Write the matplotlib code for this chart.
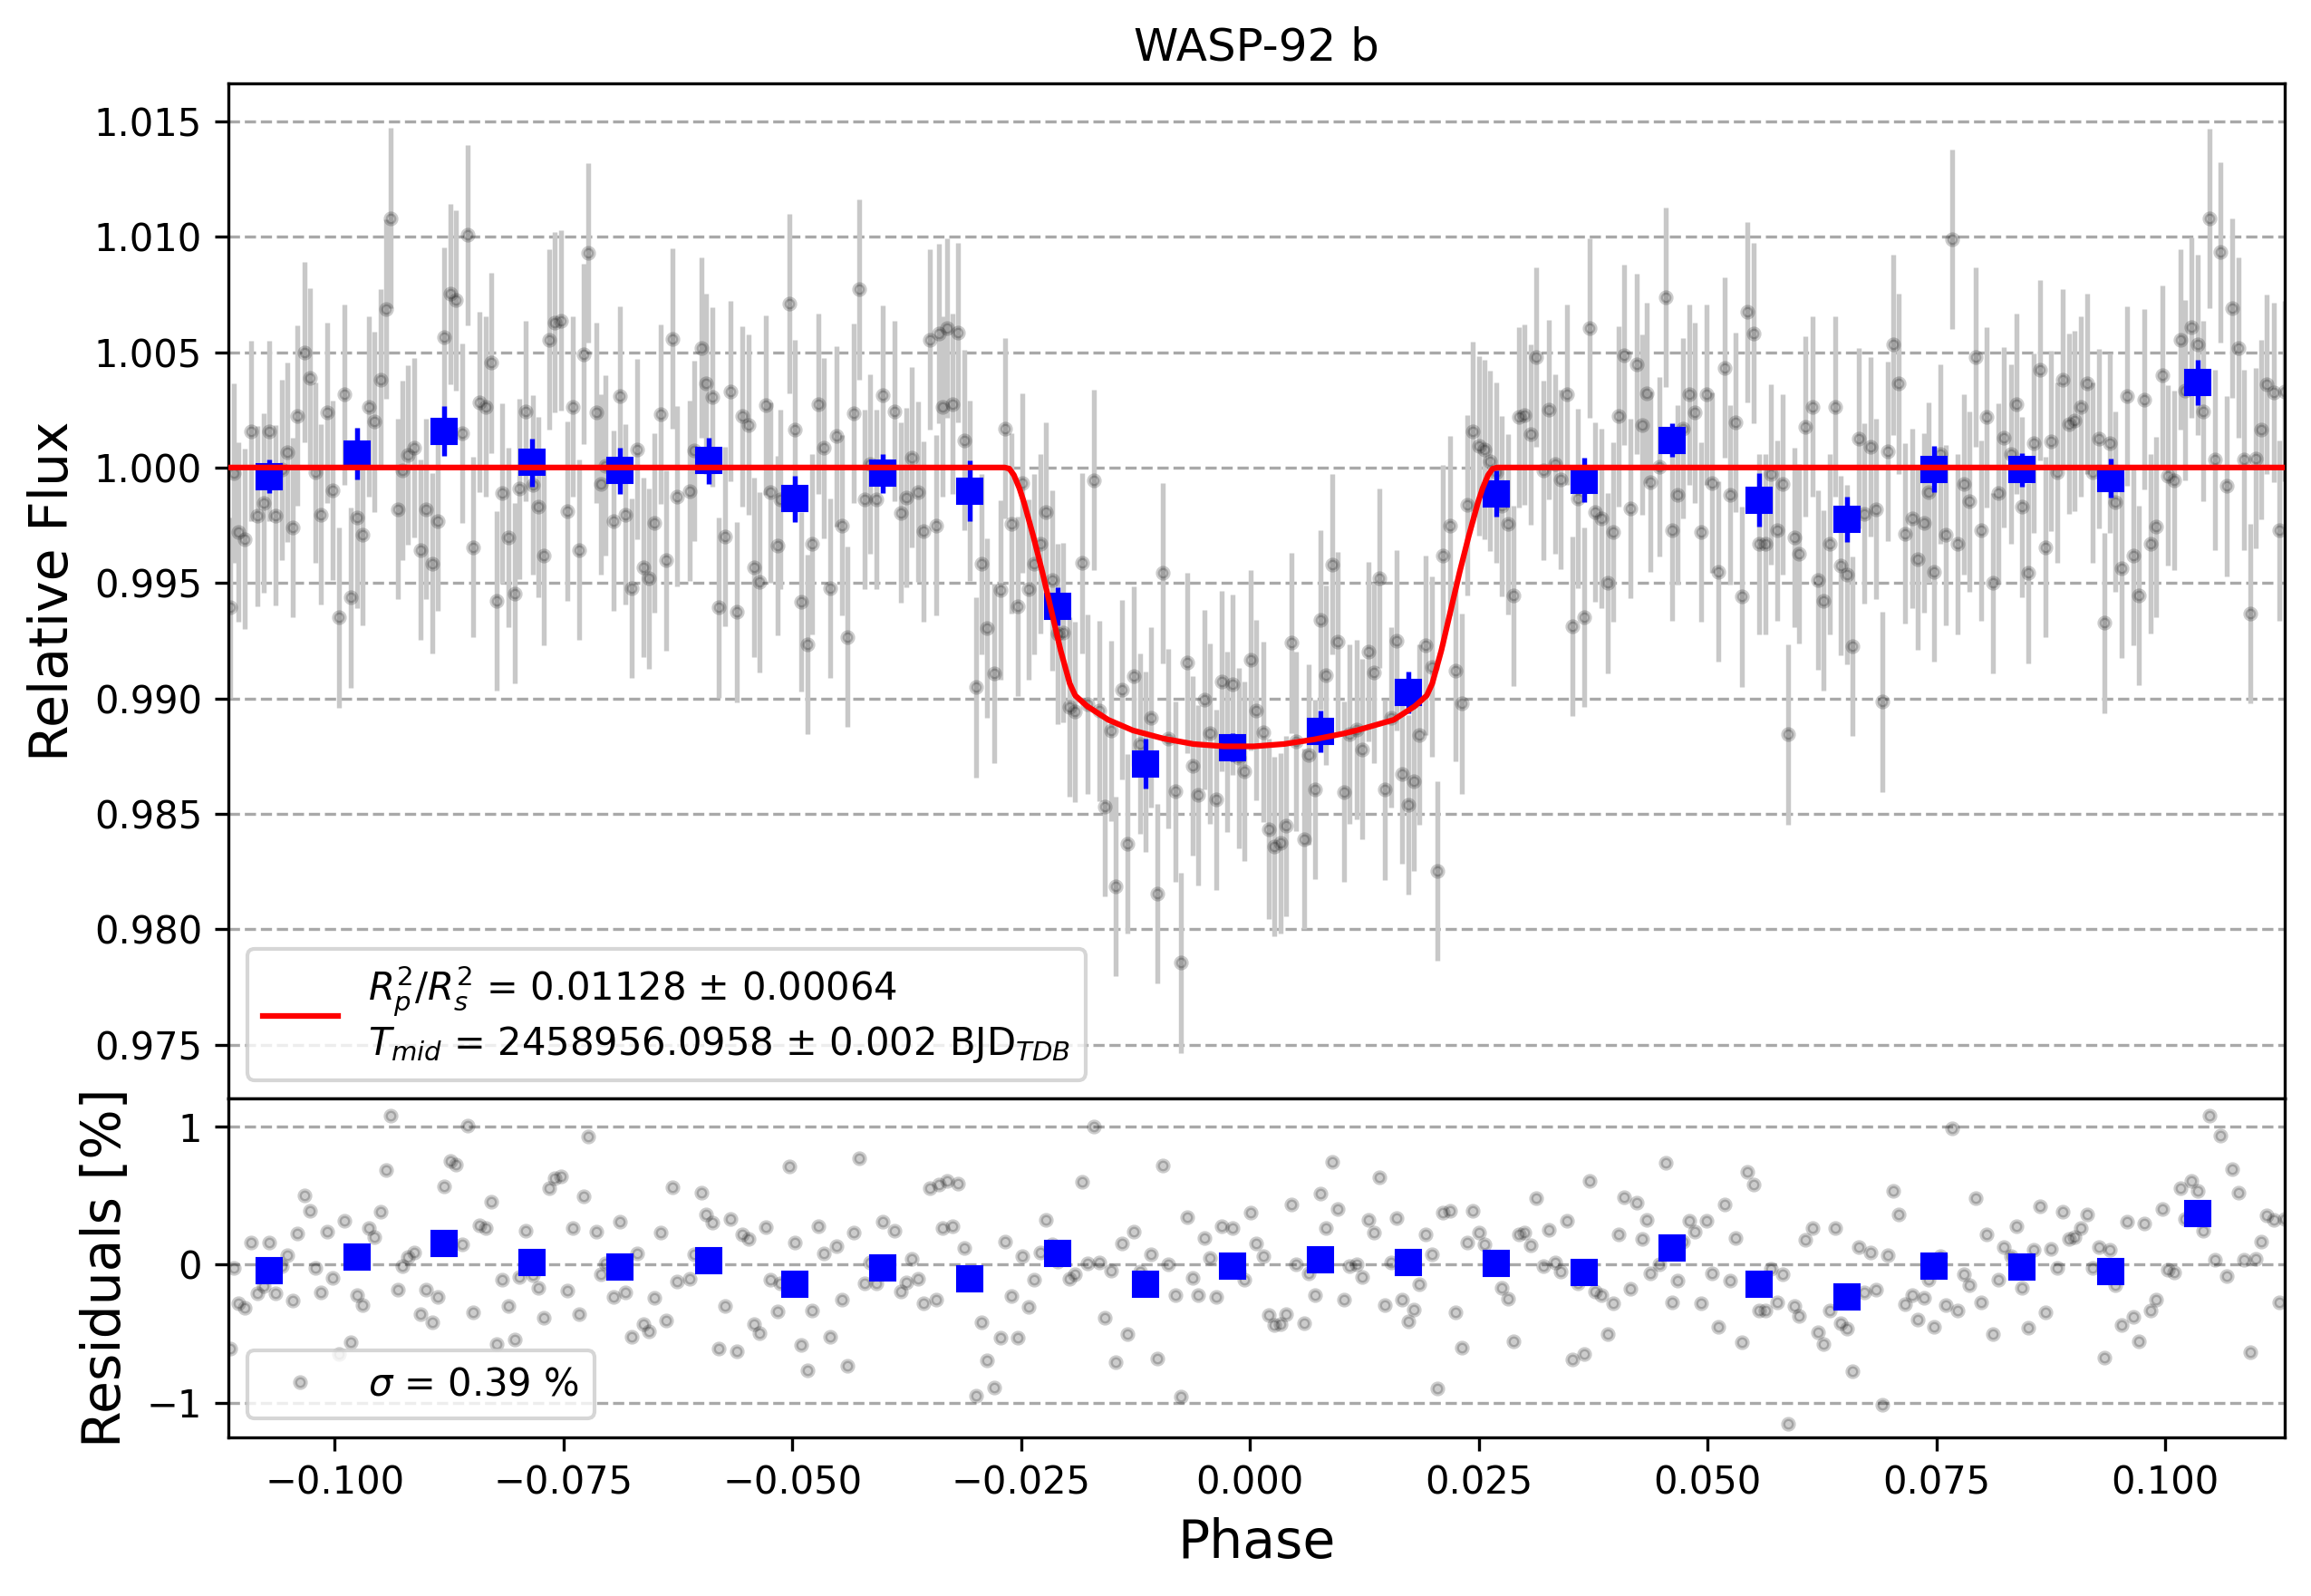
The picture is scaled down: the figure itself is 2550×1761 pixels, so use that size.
import numpy as np
import matplotlib
matplotlib.use("Agg")
from matplotlib import pyplot as plt

# =============================================================================
# data
# =============================================================================
# fitted transit model (phase, relative flux)
model_phase = [-0.1117, -0.0268, -0.0263, -0.0258, -0.0252, -0.0247, -0.0237,
               -0.0227, -0.0217, -0.0207, -0.0197, -0.0191, -0.0178, -0.0155,
               -0.0128, -0.0095, -0.0062, -0.0029, 0.0004, 0.0037, 0.0070,
               0.0103, 0.0120, 0.0157, 0.0180, 0.0193, 0.0199, 0.0209, 0.0219,
               0.0229, 0.0239, 0.0249, 0.0254, 0.0260, 0.0265, 0.0270, 0.1131]
model_flux = [1.0, 1.0, 0.99995, 0.99967, 0.9991, 0.99849, 0.99705,
              0.99548, 0.99378, 0.99208, 0.99064, 0.99012, 0.98966, 0.98907,
              0.98861, 0.98826, 0.98802, 0.98792, 0.98792, 0.98802, 0.98822,
              0.98848, 0.98865, 0.98907, 0.98966, 0.99012, 0.99064, 0.99208, 0.99378,
              0.99548, 0.99705, 0.99849, 0.9991, 0.99967, 0.99995, 1.0, 1.0]

# unbinned points: phase and residual [%]
res_phase = [
    -0.1114, -0.1110, -0.1105, -0.1098, -0.1091, -0.1085, -0.1078, -0.1072, -0.1065, -0.1058,
    -0.1052, -0.1046, -0.1041, -0.1033, -0.1027, -0.1021, -0.1015, -0.1008, -0.1002, -0.0995,
    -0.0989, -0.0983, -0.0976, -0.0970, -0.0963, -0.0957, -0.0950, -0.0944, -0.0939, -0.0931,
    -0.0926, -0.0920, -0.0913, -0.0906, -0.0900, -0.0893, -0.0887, -0.0881, -0.0874, -0.0868,
    -0.0861, -0.0855, -0.0849, -0.0842, -0.0835, -0.0829, -0.0823, -0.0817, -0.0810, -0.0803,
    -0.0798, -0.0791, -0.0784, -0.0778, -0.0772, -0.0766, -0.0760, -0.0753, -0.0746, -0.0740,
    -0.0733, -0.0728, -0.0723,
    -0.0714, -0.0709, -0.0704, -0.0695, -0.0688, -0.0683, -0.0676, -0.0670, -0.0663, -0.0657,
    -0.0651, -0.0644, -0.0638, -0.0631, -0.0626, -0.0612, -0.0607, -0.0599, -0.0594, -0.0587,
    -0.0581, -0.0574, -0.0568, -0.0561, -0.0555, -0.0548, -0.0542, -0.0536, -0.0529, -0.0524,
    -0.0516, -0.0513, -0.0503, -0.0497, -0.0490, -0.0484, -0.0479, -0.0472, -0.0466, -0.0459,
    -0.0452, -0.0446, -0.0440, -0.0433, -0.0427, -0.0421, -0.0415, -0.0408, -0.0401, -0.0388,
    -0.0382, -0.0376, -0.0370, -0.0363, -0.0357, -0.0350, -0.0343, -0.0340, -0.0336,
    -0.0331, -0.0325, -0.0319, -0.0312, -0.0306, -0.0299, -0.0293, -0.0287, -0.0280, -0.0273,
    -0.0268, -0.0261, -0.0254, -0.0249, -0.0242, -0.0236, -0.0229, -0.0223, -0.0216, -0.0210,
    -0.0204, -0.0197, -0.0191, -0.0184, -0.0178, -0.0171, -0.0165, -0.0159, -0.0152, -0.0147,
    -0.0140, -0.0134, -0.0127, -0.0120, -0.0114, -0.0108, -0.0101, -0.0095, -0.0089, -0.0082,
    -0.0076, -0.0069, -0.0063, -0.0057, -0.0050, -0.0044, -0.0037, -0.0031, -0.0025, -0.0019,
    -0.0012, -0.0006, 0.0001, 0.0007, 0.0014, 0.0020, 0.0026, 0.0033, 0.0039, 0.0045, 0.0050,
    0.0059, 0.0064, 0.0071, 0.0077, 0.0083, 0.0090, 0.0096, 0.0103, 0.0109, 0.0116,
    0.0122, 0.0129, 0.0135, 0.0141, 0.0147, 0.0154, 0.0160, 0.0166, 0.0173, 0.0179,
    0.0185, 0.0192, 0.0199, 0.0205, 0.0211, 0.0218, 0.0224, 0.0231, 0.0237, 0.0243,
    0.0250, 0.0256, 0.0262, 0.0269, 0.0275, 0.0282, 0.0288, 0.0294, 0.0300, 0.0307,
    0.0313, 0.0320, 0.0326, 0.0333, 0.0339, 0.0346, 0.0352, 0.0358, 0.0365, 0.0371,
    0.0377, 0.0384, 0.0391, 0.0397, 0.0403, 0.0409, 0.0415, 0.0422, 0.0428, 0.0433, 0.0437,
    0.0447, 0.0454, 0.0461, 0.0467, 0.0473, 0.0480, 0.0486, 0.0493, 0.0499, 0.0505,
    0.0512, 0.0518, 0.0524, 0.0530, 0.0537, 0.0543, 0.0550, 0.0556, 0.0563, 0.0569,
    0.0576, 0.0582, 0.0588, 0.0595, 0.0600, 0.0607, 0.0614, 0.0620, 0.0626, 0.0633,
    0.0639, 0.0645, 0.0652, 0.0658, 0.0665, 0.0671, 0.0678, 0.0684, 0.0691, 0.0697,
    0.0703, 0.0709, 0.0715, 0.0723, 0.0729, 0.0736, 0.0741, 0.0747, 0.0754, 0.0760,
    0.0767, 0.0773, 0.0780, 0.0786, 0.0793, 0.0799, 0.0805, 0.0812, 0.0817, 0.0823,
    0.0831, 0.0837, 0.0843, 0.0850, 0.0856, 0.0863, 0.0869, 0.0875, 0.0882, 0.0888,
    0.0895, 0.0901, 0.0908, 0.0914, 0.0920, 0.0927, 0.0933, 0.0939, 0.0945, 0.0952,
    0.0958, 0.0965, 0.0971, 0.0977, 0.0984, 0.0990, 0.0997, 0.1003, 0.1010, 0.1016,
    0.1021, 0.1028, 0.1035, 0.1041, 0.1048, 0.1054, 0.1060, 0.1067, 0.1073, 0.1080,
    0.1086, 0.1093, 0.1099, 0.1105, 0.1111, 0.1118, 0.1124, 0.1130]
res_pct = [
    -0.607, -0.024, -0.28, -0.31, 0.158, -0.21, -0.154, 0.158, -0.207, -0.01,
    0.066, -0.26, 0.224, 0.499, 0.387, -0.022, -0.204, 0.237, -0.099, -0.65,
    0.316, -0.563, -0.218, -0.292, 0.264, 0.198, 0.382, 0.686, 1.081, -0.18,
    -0.013, 0.055, 0.086, -0.356, -0.18, -0.415, -0.231, 0.565, 0.752, 0.725,
    0.149, 1.007, -0.345, 0.284, 0.264, 0.453, -0.578, -0.112, -0.303, -0.545,
    -0.092, 0.244, -0.075, -0.171, -0.382, 0.554, 0.629, 0.637, -0.189, 0.264,
    -0.356, 0.492, 0.93,
    0.237, -0.073, 0.009, -0.231, 0.31, -0.204, -0.523, 0.079, -0.433, -0.481,
    -0.24, 0.231, -0.402, 0.558, -0.125, -0.101, 0.073, 0.519, 0.363, 0.305,
    -0.607, -0.299, 0.33, -0.626, 0.222, 0.185, -0.433, -0.497, 0.27, -0.108,
    -0.338, -0.138, 0.71, 0.163, -0.582, -0.767, -0.332, 0.275, 0.084, -0.523,
    0.136, -0.251, -0.734, 0.235, 0.771, -0.138, 0.015, -0.138, 0.314, 0.244,
    -0.196, -0.13, 0.044, -0.105, -0.277, 0.554, -0.251, 0.58, 0.264,
    0.604, 0.275, 0.585, 0.119, -0.10, -0.952, -0.418, -0.695, -0.892, -0.53,
    0.169, -0.226, -0.53, 0.059, -0.305, -0.108, 0.09, 0.327, 0.15, 0.02,
    0.12, -0.101, -0.07, 0.598, 0.009, 0.998, 0.013, -0.385, -0.042, -0.708,
    0.156, -0.501, 0.237, -0.05, -0.12, 0.077, -0.679, 0.716, 0.004, -0.22,
    -0.958, 0.347, -0.095, -0.22, 0.196, 0.051, -0.233, 0.281, 0.02, 0.268,
    -0.05, -0.108, 0.374, 0.156, 0.059, -0.363, -0.44, -0.429, -0.356, 0.433, 0.004,
    -0.424, -0.062, -0.218, 0.512, 0.268, 0.743, 0.402, -0.253, -0.009, 0.004,
    -0.088, 0.327, 0.229, 0.631, -0.292, 0.013, 0.336, -0.257, -0.409, -0.323,
    -0.141, 0.222, 0.073, -0.899, 0.378, 0.387, -0.345, -0.602, 0.163, 0.393,
    0.233, 0.149, 0.05, -0.02, -0.167, -0.246, -0.556, 0.218, 0.229, 0.143,
    0.479, -0.013, 0.251, 0.015, -0.051, 0.316, -0.688, -0.134, -0.648, 0.604,
    -0.193, -0.22, -0.501, -0.279, 0.222, 0.488, -0.178, 0.448, 0.185, 0.323, -0.062,
    0.004, 0.738, -0.273, -0.119, 0.169, 0.316, 0.237, -0.279, 0.316, -0.066,
    -0.451, 0.433, -0.119, 0.196, -0.56, 0.673, 0.582, -0.332, -0.332, -0.029,
    -0.273, -0.073, -1.156, -0.303, -0.374, 0.178, 0.264, -0.488, -0.576, -0.332,
    0.264, -0.424, -0.464, -0.774, 0.127, -0.2, 0.09, -0.18, -1.015, 0.07,
    0.532, 0.363, -0.286, -0.22, -0.398, -0.24, -0.108, -0.451, 0.059, -0.292,
    0.989, -0.332, -0.073, -0.147, 0.479, -0.273, 0.218, -0.501, -0.112, 0.13,
    0.059, 0.275, -0.171, -0.457, 0.105, 0.422, -0.345, 0.114, -0.022, 0.382,
    0.189, 0.202, 0.264, 0.363, -0.022, 0.125, -0.673, 0.105, -0.149, -0.435,
    0.31, -0.38, -0.554, 0.295, -0.33, -0.257, 0.4, -0.035, -0.055, 0.554,
    0.334, 0.607, 0.532, 0.244, 1.079, 0.033, 0.932, -0.081, 0.69, 0.519,
    0.033, -0.633, 0.04, 0.165, 0.36, 0.325, -0.273, 0.33]
flux_err = 0.0039

# binned points
bin_phase = [-0.1072, -0.0976, -0.0881, -0.0785, -0.0688, -0.0591, -0.0497, -0.0401,
             -0.0306, -0.0210, -0.0114, -0.0019, 0.0077, 0.0173, 0.0269, 0.0365,
             0.0461, 0.0556, 0.0652, 0.0747, 0.0843, 0.0940, 0.1035]
bin_flux = [0.99962, 1.00060, 1.00158, 1.00021, 0.99986, 1.00029, 0.99864, 0.99974,
            0.99899, 0.99399, 0.98716, 0.98787, 0.98857, 0.99026, 0.99887, 0.99946,
            1.00119, 0.99860, 0.99774, 0.99993, 0.99990, 0.99954, 1.00367]
bin_err = [0.00073, 0.00113, 0.00109, 0.00103, 0.00099, 0.00101, 0.00101, 0.00084,
           0.00130, 0.00084, 0.00108, 0.00060, 0.00092, 0.00090, 0.00100, 0.00096,
           0.00072, 0.00117, 0.00098, 0.00101, 0.00072, 0.00086, 0.00098]
bin_res = [-0.042, 0.057, 0.156, 0.018, -0.015, 0.026, -0.141, -0.026,
           -0.101, 0.084, -0.141, -0.009, 0.037, 0.018, 0.011, -0.055,
           0.119, -0.141, -0.233, -0.009, -0.015, -0.048, 0.367]

phase = np.array(res_phase)
resid = np.array(res_pct)
flux = np.interp(phase, model_phase, model_flux) + resid / 100.

# =============================================================================
# plot
# =============================================================================
fig, (ax_lc, ax_res) = plt.subplots(2, 1, figsize=(8.5, 5.87), dpi=300,
                                    gridspec_kw={'height_ratios': [3, 1]})
fig.subplots_adjust(left=0.0989, right=0.9885, top=0.948, bottom=0.0994, hspace=0)

xlim = (-0.1116, 0.1130)

# light curve
ax_lc.set_title('WASP-92 b', fontsize=12)
ax_lc.errorbar(phase, flux, yerr=flux_err, fmt='none', ecolor='#c8c8c8',
               elinewidth=1.3, zorder=1)
ax_lc.plot(phase, flux, 'o', color='k', alpha=0.2, ms=2.8, mew=1.1, zorder=2)
ax_lc.errorbar(bin_phase, bin_flux, yerr=bin_err, fmt='s', ms=6.8, mfc='b', mec='b',
               mew=0.5, ecolor='b', elinewidth=1.3, zorder=5)
ax_lc.plot(model_phase, model_flux, 'r-', lw=1.5, zorder=10,
           label='$R^2_p/R^2_s$ = 0.01128 ± 0.00064\n'
                 '$T_{mid}$ = 2458956.0958 ± 0.002 BJD$_{TDB}$')
ax_lc.set_xlim(xlim)
ax_lc.set_ylim(0.97265, 1.01666)
ax_lc.set_yticks([0.975, 0.980, 0.985, 0.990, 0.995, 1.000, 1.005, 1.010, 1.015])
ax_lc.set_ylabel('Relative Flux', fontsize=14)
ax_lc.tick_params(axis='x', bottom=False, labelbottom=False)
ax_lc.grid(axis='y', ls='--', color='darkgray', lw=0.8)
ax_lc.set_axisbelow(True)
ax_lc.legend(loc='lower left')

# residuals
ax_res.plot(phase, resid, 'o', color='k', alpha=0.2, ms=2.8, mew=1.1, zorder=2,
            label=r'$\sigma$ = 0.39 %')
ax_res.plot(bin_phase, bin_res, 's', ms=6.8, mfc='b', mec='b', mew=0.5, zorder=5)
ax_res.set_xlim(xlim)
ax_res.set_ylim(-1.252, 1.202)
ax_res.set_yticks([-1, 0, 1])
ax_res.set_xlabel('Phase', fontsize=14)
ax_res.set_ylabel('Residuals [%]', fontsize=14)
ax_res.grid(axis='y', ls='--', color='darkgray', lw=0.8)
ax_res.set_axisbelow(True)
ax_res.legend(loc='lower left')

fig.savefig('out.png', dpi=300)
